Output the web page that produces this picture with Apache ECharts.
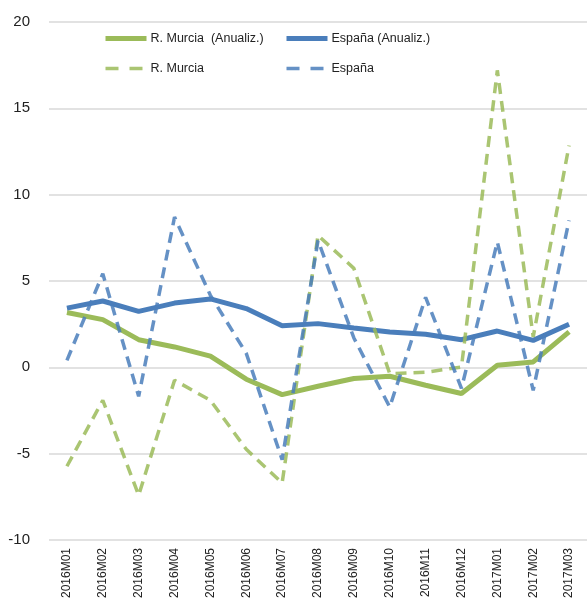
<!DOCTYPE html>
<html>
<head>
<meta charset="utf-8">
<script src="https://cdn.jsdelivr.net/npm/echarts@6/dist/echarts.min.js"></script>
<style>
html, body { margin: 0; padding: 0; background: #fff; }
#chart { width: 587px; height: 601px; }
</style>
</head>
<body>
<div id="chart"></div>
<script>
// meses
const categories = ['2016M01', '2016M02', '2016M03', '2016M04', '2016M05', '2016M06', '2016M07', '2016M08',
    '2016M09', '2016M10', '2016M11', '2016M12', '2017M01', '2017M02', '2017M03'];

const murciaAnualiz = [3.17, 2.76, 1.6, 1.18, 0.65, -0.69, -1.58, -1.1, -0.65, -0.52, -1.04, -1.52, 0.12, 0.31, 2.05];
const espanaAnualiz = [3.43, 3.84, 3.24, 3.72, 3.96, 3.4, 2.41, 2.53, 2.28, 2.05, 1.91, 1.6, 2.1, 1.56, 2.49];
const murcia = [-5.73, -1.91, -7.41, -0.75, -1.91, -4.75, -6.7, 7.64, 5.73, -0.37, -0.29, 0.02, 17.2, 1.76, 12.85];
const espana = [0.4, 5.42, -1.68, 8.7, 4.17, 0.81, -5.35, 7.35, 1.7, -2.3, 4.05, -1.22, 7.26, -1.33, 8.51];

const yTicks = { min: -10, max: 20, interval: 5 };

let myChart = echarts.init(document.getElementById('chart'));

const green = '#9BBB59';
const blue = '#4A7EBB';

const solidStyle = { width: 5 };
const dashStyle = { width: 3.5, type: [11, 7], opacity: 0.85 };
const legendDash = { width: 3.5, type: [13, 11], opacity: 0.85 };

function lineSeries(name, data, color, dashed) {
    return {
        name: name,
        type: 'line',
        data: data,
        showSymbol: false,
        symbol: 'none',
        smooth: false,
        silent: true,
        lineStyle: Object.assign({ color: color }, dashed ? dashStyle : solidStyle),
        itemStyle: { color: color }
    };
}

const legendBase = {
    orient: 'vertical',
    top: 27,
    itemWidth: 41,
    itemHeight: 6,
    itemGap: 17,
    itemStyle: { opacity: 0 },
    textStyle: { fontSize: 12.5, color: '#222', padding: [0, 0, 0, -1] }
};

myChart.setOption({
    animation: false,
    textStyle: { fontFamily: 'Liberation Sans' },
    legend: [
        Object.assign({}, legendBase, {
            left: 98,
            data: [
                { name: 'R. Murcia  (Anualiz.)', lineStyle: solidStyle },
                { name: 'R. Murcia', lineStyle: legendDash }
            ]
        }),
        Object.assign({}, legendBase, {
            left: 279,
            data: [
                { name: 'España (Anualiz.)', lineStyle: solidStyle },
                { name: 'España', lineStyle: legendDash }
            ]
        })
    ],
    grid: {
        left: 49,
        top: 22,
        width: 549,
        bottom: 61,
        containLabel: false
    },
    xAxis: {
        type: 'category',
        boundaryGap: true,
        data: categories,
        axisLine: { show: false },
        axisTick: { show: false },
        axisLabel: {
            rotate: 90,
            margin: 8,
            fontSize: 12,
            color: '#222',
            interval: 0
        }
    },
    yAxis: {
        type: 'value',
        min: yTicks.min,
        max: yTicks.max,
        interval: yTicks.interval,
        axisLine: { show: false },
        axisTick: { show: false },
        axisLabel: { fontSize: 15, color: '#222', margin: 19 },
        splitLine: { lineStyle: { color: '#D9D9D9', width: 1.5 } }
    },
    series: [
        lineSeries('R. Murcia  (Anualiz.)', murciaAnualiz, green, false),
        lineSeries('España (Anualiz.)', espanaAnualiz, blue, false),
        lineSeries('R. Murcia', murcia, green, true),
        lineSeries('España', espana, blue, true)
    ]
});
</script>
</body>
</html>
